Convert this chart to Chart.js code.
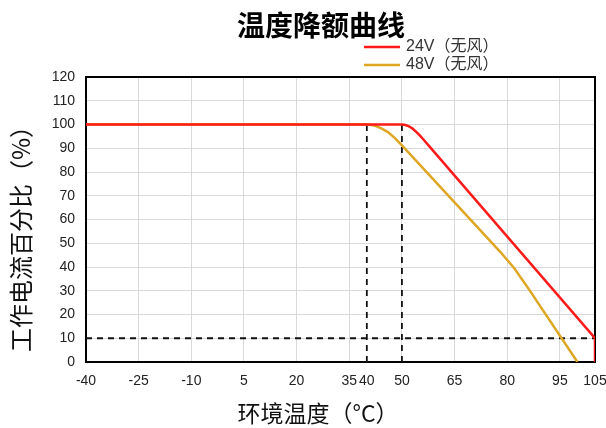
<!DOCTYPE html>
<html>
<head>
<meta charset="utf-8">
<script src="https://cdn.jsdelivr.net/npm/chart.js@4"></script>
<style>
  body { margin: 0; background: #fff; }
</style>
</head>
<body>
<canvas id="derating" width="606" height="428"></canvas>
<script>
const title = '温度降额曲线';
const xTitle = '环境温度（°C）';
const yTitle = '工作电流百分比（%）';

const xTicks = [-40, -25, -10, 5, 20, 35, 40, 50, 65, 80, 95, 105];

// 24V, no airflow
const temps24 = [-40, 50, 51, 52, 53, 54, 55, 56, 58, 105, 105];
const vals24 = [100, 100, 99.8, 99.2, 98.3, 97, 95.5, 93.9, 90.5, 10, 0];

// 48V, no airflow
const temps48 = [-40, 40, 41, 42, 44, 46, 48, 50, 78, 82, 86, 100];
const vals48 = [100, 100, 99.9, 99.6, 98.5, 96.8, 94.3, 91.2, 46.4, 39.5, 31, 0];

// dashed guide lines
const guide40x = [40, 40];
const guide40y = [0, 100];
const guide50x = [50, 50];
const guide50y = [0, 100];
const guide10x = [-40, 105];
const guide10y = [10, 10];

const toPoints = (xs, ys) => xs.map((x, i) => ({ x: x, y: ys[i] }));

const cjk = "'Liberation Sans', 'Noto Sans CJK SC', sans-serif";

const dashed = (xs, ys) => ({
  label: '',
  data: toPoints(xs, ys),
  borderColor: '#111',
  borderWidth: 1.8,
  borderDash: [6, 5],
  pointRadius: 0,
  tension: 0,
});

// title, legend, axis titles and the frame
const decorations = {
  id: 'decorations',
  beforeDatasetsDraw(chart) {
    const { ctx, chartArea: a } = chart;
    ctx.save();
    ctx.strokeStyle = '#000';
    ctx.lineWidth = 2;
    ctx.strokeRect(a.left, a.top, a.right - a.left, a.bottom - a.top);
    ctx.restore();
  },
  afterDraw(chart) {
    const ctx = chart.ctx;
    ctx.save();
    ctx.fillStyle = '#000';
    ctx.textAlign = 'center';
    ctx.textBaseline = 'middle';
    ctx.font = "bold 28px 'Noto Sans CJK SC', sans-serif";
    ctx.fillText(title, 321, 25);

    ctx.font = "23px 'Noto Sans CJK SC', sans-serif";
    ctx.fillStyle = '#111';
    ctx.fillText(xTitle, 318, 413);

    ctx.font = "24px 'Noto Sans CJK SC', sans-serif";
    ctx.translate(21, 233);
    ctx.rotate(-Math.PI / 2);
    ctx.fillText(yTitle, 0, 0);
    ctx.restore();

    // legend
    ctx.save();
    ctx.font = "16px " + cjk;
    ctx.textBaseline = 'middle';
    ctx.textAlign = 'left';
    chart.data.datasets.slice(0, 2).forEach((ds, i) => {
      const y = 47 + i * 18;
      ctx.strokeStyle = ds.borderColor;
      ctx.lineWidth = 2.5;
      ctx.beginPath();
      ctx.moveTo(364, y);
      ctx.lineTo(400, y);
      ctx.stroke();
      ctx.fillStyle = '#333';
      ctx.fillText(ds.label, 406, y);
    });
    ctx.restore();
  }
};

new Chart(document.getElementById('derating'), {
  type: 'line',
  data: {
    datasets: [
      {
        label: '24V（无风）',
        data: toPoints(temps24, vals24),
        borderColor: '#ff1a1a',
        borderWidth: 2.5,
        pointRadius: 0,
        tension: 0,
      },
      {
        label: '48V（无风）',
        data: toPoints(temps48, vals48),
        borderColor: '#dfa623',
        borderWidth: 2.5,
        pointRadius: 0,
        tension: 0,
      },
      dashed(guide40x, guide40y),
      dashed(guide50x, guide50y),
      dashed(guide10x, guide10y),
    ],
  },
  options: {
    responsive: false,
    animation: false,
    layout: { padding: { left: 0, right: 0, top: 77, bottom: 0 } },
    plugins: {
      legend: { display: false },
      tooltip: { enabled: false },
    },
    scales: {
      x: {
        type: 'linear',
        min: -40,
        max: 105,
        afterBuildTicks: scale => {
          scale.ticks = xTicks.map(v => ({ value: v }));
        },
        afterFit: scale => {
          scale.height = 66;
          scale.paddingLeft = 0;
          scale.paddingRight = 11;
        },
        grid: {
          drawTicks: false,
          color: c => (c.tick && (c.tick.value === 40 || c.tick.value === -40 || c.tick.value === 105)) ? 'rgba(0,0,0,0)' : '#d9d9d9',
        },
        border: { display: false },
        ticks: {
          autoSkip: false,
          maxRotation: 0,
          padding: 11,
          color: '#222',
          font: { family: "'Liberation Sans', sans-serif", size: 14 },
        },
      },
      y: {
        min: 0,
        max: 120,
        afterFit: scale => { scale.width = 86; },
        grid: { drawTicks: false, color: '#d9d9d9' },
        border: { display: false },
        ticks: {
          stepSize: 10,
          padding: 11,
          color: '#222',
          font: { family: "'Liberation Sans', sans-serif", size: 14 },
        },
      },
    },
  },
  plugins: [decorations],
});
</script>
</body>
</html>
